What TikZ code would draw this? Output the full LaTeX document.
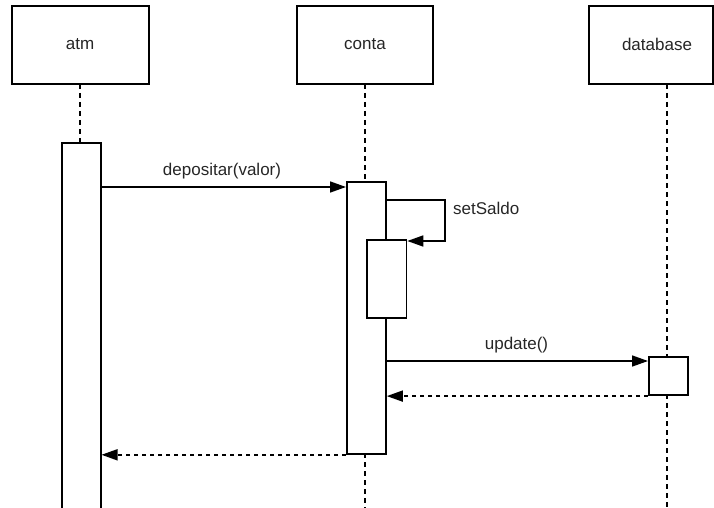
\documentclass[tikz,border=0pt]{standalone}
\usepackage{fontspec}
\setmainfont{Liberation Sans}
\usetikzlibrary{arrows.meta,calc}
\begin{document}
\begin{tikzpicture}[x=1pt,y=-1pt,
  every node/.style={font=\fontsize{17}{20}\selectfont, text=black!85},
  actor/.style={draw, line width=1.8pt, rectangle, inner sep=0pt, fill=white},
  act/.style={draw, line width=1.8pt, fill=white},
  life/.style={line width=1.6pt, dash pattern=on 5pt off 4pt},
  msg/.style={line width=1.6pt, -{Triangle[length=16pt,width=11pt]}},
  ret/.style={line width=1.6pt, dash pattern=on 4pt off 4pt, -{Triangle[length=16pt,width=11pt]}},
  lbl/.style={inner sep=0pt}
]
\useasboundingbox (0,0) rectangle (714,508);
% actor boxes
\draw[actor] (12,6) rectangle (148.7,84);
\node[lbl] (atm) at (80,44) {atm};
\draw[actor] (297,6) rectangle (433,84);
\node[lbl] (conta) at (365,44) {conta};
\draw[actor] (589,6) rectangle (713,84);
\node[lbl] (database) at (657,44) {database};
\coordinate (atmB) at (80,84);
\coordinate (contaB) at (365,84);
\coordinate (dbB) at (667,84);
% lifelines
\coordinate (atmEnd) at (80,515);
\coordinate (contaEnd) at (365,515);
\coordinate (dbEnd) at (667,515);
\draw[life] (atmB) -- (80,142);
\draw[life] (contaB) -- (365,181);
\draw[life] (365,453) -- (contaEnd);
\draw[life] (dbB) -- (667,356);
\draw[life] (667,394) -- (dbEnd);
% activations
\node[act, anchor=north west, minimum width=39pt, minimum height=380pt, inner sep=0pt] (actA) at (60.7,142) {};
\node[act, anchor=north west, minimum width=39pt, minimum height=272pt, inner sep=0pt] (actC) at (346,181) {};
\node[act, anchor=north west, minimum width=39.5pt, minimum height=77.5pt, inner sep=0pt] (actC2) at (366,239.3) {};
\node[act, anchor=north west, minimum width=39.3pt, minimum height=38.6pt, inner sep=0pt] (actD) at (648,355.7) {};
% messages
\draw[msg] (actA.east |- 0,187) -- (actC.west |- 0,187);
\node[lbl] (m1) at (222,171) {depositar(valor)};
\draw[msg] (actC.east |- 0,200) -- (445,200) -- (445,241) -- (actC2.east |- 0,241);
\node[lbl, anchor=west] (m2) at (453,208) {setSaldo};
\draw[msg] (actC.east |- 0,361) -- (actD.west |- 0,361);
\node[lbl] (m3) at (516.5,345) {update()};
\draw[ret] (actD.south west) -- (actC.east |- actD.south);
\draw[ret] (actC.south west) -- (actA.east |- actC.south);
\end{tikzpicture}
\end{document}
